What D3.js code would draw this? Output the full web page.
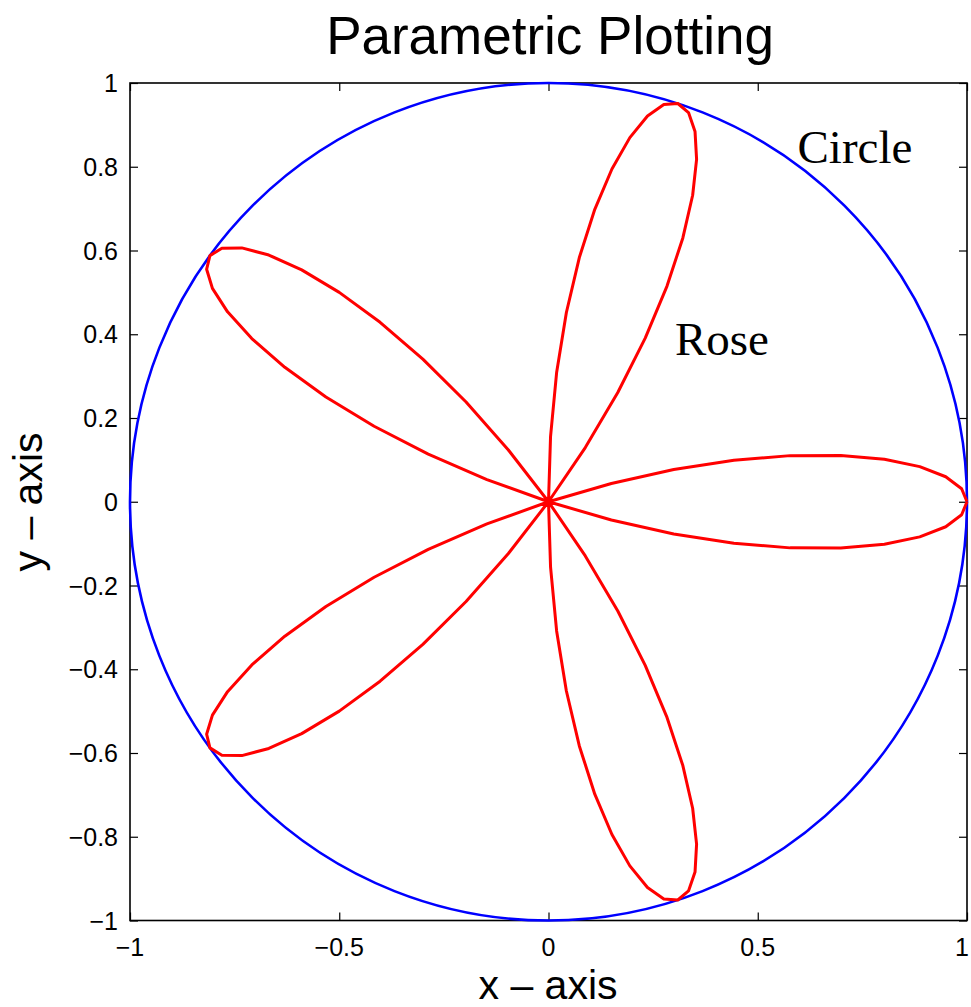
<!DOCTYPE html>
<html>
<head>
<meta charset="utf-8">
<script src="https://cdn.jsdelivr.net/npm/d3@7"></script>
<style>
  body { margin: 0; background: #fff; }
  svg { display: block; }
  text { font-family: "Liberation Sans", Arial, Helvetica, sans-serif; fill: #000; }
</style>
</head>
<body>
<div id="chart"></div>
<script>
// rose samples: polar angle (degrees) and radius read per sample
const roseTheta = [
  0, 1.8, 3.6, 5.4, 7.2, 9, 10.8, 12.6, 14.4, 16.2,
  18, 19.8, 21.6, 23.4, 25.2, 27, 28.8, 30.6, 32.4, 34.2,
  36, 37.8, 39.6, 41.4, 43.2, 45, 46.8, 48.6, 50.4, 52.2,
  54, 55.8, 57.6, 59.4, 61.2, 63, 64.8, 66.6, 68.4, 70.2,
  72, 73.8, 75.6, 77.4, 79.2, 81, 82.8, 84.6, 86.4, 88.2,
  90, 91.8, 93.6, 95.4, 97.2, 99, 100.8, 102.6, 104.4, 106.2,
  108, 109.8, 111.6, 113.4, 115.2, 117, 118.8, 120.6, 122.4, 124.2,
  126, 127.8, 129.6, 131.4, 133.2, 135, 136.8, 138.6, 140.4, 142.2,
  144, 145.8, 147.6, 149.4, 151.2, 153, 154.8, 156.6, 158.4, 160.2,
  162, 163.8, 165.6, 167.4, 169.2, 171, 172.8, 174.6, 176.4, 178.2,
  180
];
const roseR = [
  1, 0.9877, 0.9511, 0.8910, 0.8090, 0.7071, 0.5878, 0.4540, 0.3090, 0.1564,
  0, -0.1564, -0.3090, -0.4540, -0.5878, -0.7071, -0.8090, -0.8910, -0.9511, -0.9877,
  -1, -0.9877, -0.9511, -0.8910, -0.8090, -0.7071, -0.5878, -0.4540, -0.3090, -0.1564,
  0, 0.1564, 0.3090, 0.4540, 0.5878, 0.7071, 0.8090, 0.8910, 0.9511, 0.9877,
  1, 0.9877, 0.9511, 0.8910, 0.8090, 0.7071, 0.5878, 0.4540, 0.3090, 0.1564,
  0, -0.1564, -0.3090, -0.4540, -0.5878, -0.7071, -0.8090, -0.8910, -0.9511, -0.9877,
  -1, -0.9877, -0.9511, -0.8910, -0.8090, -0.7071, -0.5878, -0.4540, -0.3090, -0.1564,
  0, 0.1564, 0.3090, 0.4540, 0.5878, 0.7071, 0.8090, 0.8910, 0.9511, 0.9877,
  1, 0.9877, 0.9511, 0.8910, 0.8090, 0.7071, 0.5878, 0.4540, 0.3090, 0.1564,
  0, -0.1564, -0.3090, -0.4540, -0.5878, -0.7071, -0.8090, -0.8910, -0.9511, -0.9877,
  -1
];

const circleCenter = [0, 0];
const circleRadius = [1];

const xTicks = [-1, -0.5, 0, 0.5, 1];
const xTickLabels = ['\u22121', '\u22120.5', '0', '0.5', '1'];
const yTicks = [-1, -0.8, -0.6, -0.4, -0.2, 0, 0.2, 0.4, 0.6, 0.8, 1];
const yTickLabels = ['\u22121', '\u22120.8', '\u22120.6', '\u22120.4', '\u22120.2', '0', '0.2', '0.4', '0.6', '0.8', '1'];

const W = 971, H = 1007;
const plot = { left: 130, right: 967, top: 83, bottom: 920.5 };

const svg = d3.select('#chart').append('svg')
  .attr('width', W)
  .attr('height', H);

const x = d3.scaleLinear().domain([-1, 1]).range([plot.left, plot.right]);
const y = d3.scaleLinear().domain([-1, 1]).range([plot.bottom, plot.top]);

// box
svg.append('rect')
  .attr('x', plot.left)
  .attr('y', plot.top)
  .attr('width', plot.right - plot.left)
  .attr('height', plot.bottom - plot.top)
  .attr('fill', 'none')
  .attr('stroke', '#000')
  .attr('stroke-width', 1.6);

// inward ticks on all four sides
const tick = 8;
function styleAxis(g) {
  g.select('.domain').remove();
  g.selectAll('.tick line').attr('stroke', '#000').attr('stroke-width', 1.2);
}
svg.append('g').attr('transform', `translate(0,${plot.bottom})`)
  .call(d3.axisBottom(x).tickValues(xTicks).tickSize(-tick).tickFormat(''))
  .call(styleAxis);
svg.append('g').attr('transform', `translate(0,${plot.top})`)
  .call(d3.axisTop(x).tickValues(xTicks).tickSize(-tick).tickFormat(''))
  .call(styleAxis);
svg.append('g').attr('transform', `translate(${plot.left},0)`)
  .call(d3.axisLeft(y).tickValues(yTicks).tickSize(-tick).tickFormat(''))
  .call(styleAxis);
svg.append('g').attr('transform', `translate(${plot.right},0)`)
  .call(d3.axisRight(y).tickValues(yTicks).tickSize(-tick).tickFormat(''))
  .call(styleAxis);

// tick labels
svg.append('g').selectAll('text')
  .data(xTicks)
  .join('text')
  .attr('x', d => Math.min(x(d), 962))
  .attr('y', 956)
  .attr('text-anchor', 'middle')
  .style('font-size', '25px')
  .text((d, i) => xTickLabels[i]);

svg.append('g').selectAll('text')
  .data(yTicks)
  .join('text')
  .attr('x', 118)
  .attr('y', d => y(d))
  .attr('dy', '0.36em')
  .attr('text-anchor', 'end')
  .style('font-size', '25px')
  .text((d, i) => yTickLabels[i]);

// circle
svg.append('ellipse')
  .attr('cx', x(circleCenter[0]))
  .attr('cy', y(circleCenter[1]))
  .attr('rx', x(circleRadius[0]) - x(0))
  .attr('ry', y(0) - y(circleRadius[0]))
  .attr('fill', 'none')
  .attr('stroke', '#0000ff')
  .attr('stroke-width', 2.6);

// rose
const rosePts = roseTheta.map((t, i) => {
  const a = t * Math.PI / 180;
  return [roseR[i] * Math.cos(a), roseR[i] * Math.sin(a)];
});
svg.append('path')
  .datum(rosePts)
  .attr('d', d3.line().x(d => x(d[0])).y(d => y(d[1])))
  .attr('fill', 'none')
  .attr('stroke', '#ff0000')
  .attr('stroke-width', 3)
  .attr('stroke-linejoin', 'round');

// annotations
svg.append('text')
  .attr('x', x(0.595))
  .attr('y', y(0.81))
  .style('font-family', '"Liberation Serif", "Times New Roman", serif')
  .style('font-size', '47px')
  .text('Circle');
svg.append('text')
  .attr('x', x(0.302))
  .attr('y', y(0.351))
  .style('font-family', '"Liberation Serif", "Times New Roman", serif')
  .style('font-size', '47px')
  .text('Rose');

// title and axis labels
svg.append('text')
  .attr('x', 550)
  .attr('y', 54)
  .attr('text-anchor', 'middle')
  .style('font-size', '53px')
  .text('Parametric Plotting');
svg.append('text')
  .attr('x', 548)
  .attr('y', 999)
  .attr('text-anchor', 'middle')
  .style('font-size', '41px')
  .text('x \u2013 axis');
svg.append('text')
  .attr('transform', `translate(42,502) rotate(-90)`)
  .attr('text-anchor', 'middle')
  .style('font-size', '41px')
  .text('y \u2013 axis');
</script>
</body>
</html>
